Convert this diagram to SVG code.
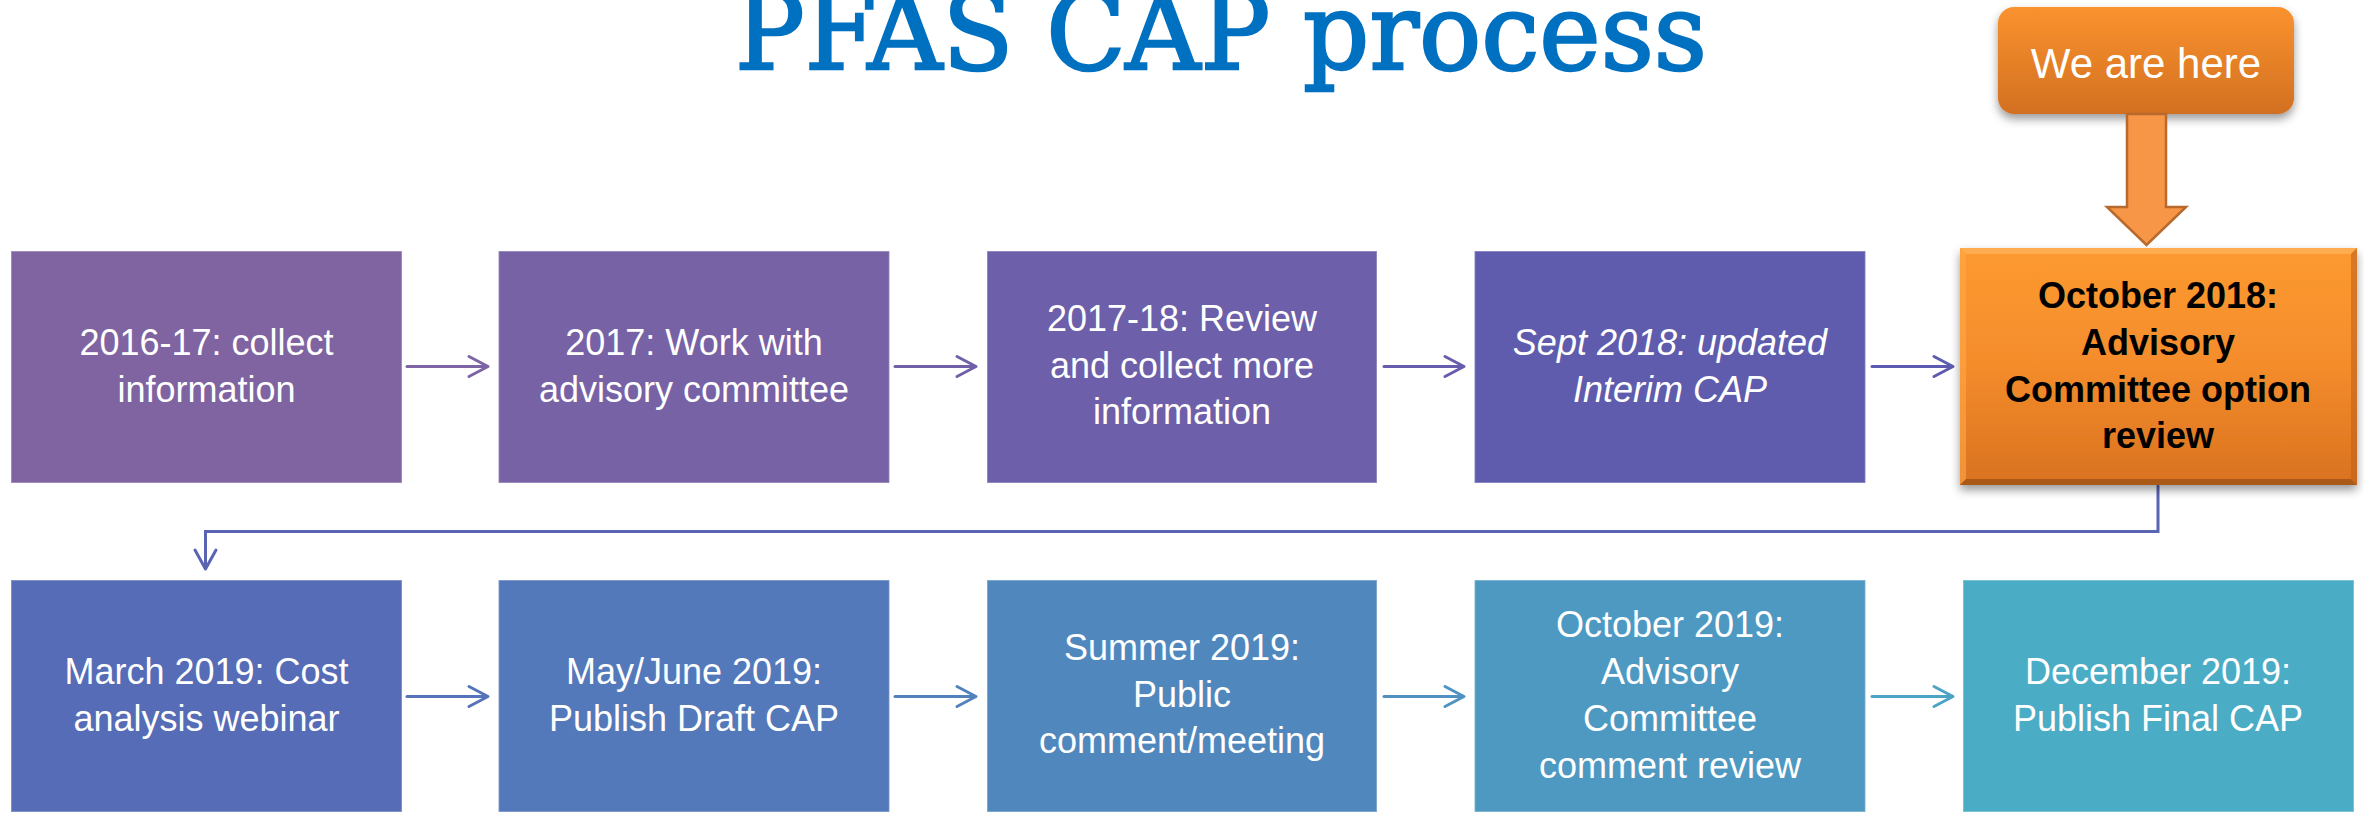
<svg xmlns="http://www.w3.org/2000/svg" width="2364" height="813" viewBox="0 0 2364 813">
<style>
.box{stroke:#ffffff;stroke-opacity:0.35;stroke-width:1.5}
.t{font-family:"Liberation Sans",Arial,sans-serif;font-size:36px;fill:#ffffff;text-anchor:middle}
.ti{font-style:italic}
.tb{font-family:"Liberation Sans",Arial,sans-serif;font-size:36px;font-weight:bold;fill:#000000;text-anchor:middle}
.conn{fill:none;stroke-width:3;stroke-linecap:round;stroke-linejoin:miter}
.head{fill:none;stroke-width:3;stroke-linecap:round;stroke-linejoin:round}
</style>
<defs>
<linearGradient id="og" x1="0" y1="0" x2="0" y2="1">
<stop offset="0" stop-color="#FD9A30"/>
<stop offset="0.5" stop-color="#F48C2C"/>
<stop offset="1" stop-color="#D9721F"/>
</linearGradient>
<linearGradient id="og2" x1="0" y1="0" x2="0" y2="1">
<stop offset="0" stop-color="#FB922F"/>
<stop offset="1" stop-color="#D27020"/>
</linearGradient>
<filter id="sh" x="-10%" y="-10%" width="120%" height="130%">
<feDropShadow dx="0" dy="5" stdDeviation="5" flood-color="#000000" flood-opacity="0.4"/>
</filter>
</defs>
<rect width="2364" height="813" fill="#ffffff"/>

<text x="1221" y="69" font-family="DejaVu Serif,'Liberation Serif',serif" font-size="106" fill="#0070C0" stroke="#0070C0" stroke-width="2.5" text-anchor="middle" textLength="972" lengthAdjust="spacingAndGlyphs">PFAS CAP process</text>

<g id="connectors">
<g stroke="#7C64A5"><line class="conn" x1="407" y1="366.5" x2="487" y2="366.5"/><polyline class="head" points="469,356.5 488,366.5 469,376.5"/></g>
<g stroke="#7160A8"><line class="conn" x1="895" y1="366.5" x2="975" y2="366.5"/><polyline class="head" points="957,356.5 976,366.5 957,376.5"/></g>
<g stroke="#665DAC"><line class="conn" x1="1384" y1="366.5" x2="1463" y2="366.5"/><polyline class="head" points="1445,356.5 1464,366.5 1445,376.5"/></g>
<g stroke="#5C5BAF"><line class="conn" x1="1872" y1="366.5" x2="1952" y2="366.5"/><polyline class="head" points="1934,356.5 1953,366.5 1934,376.5"/></g>
<g stroke="#5A64B2"><polyline class="conn" points="2158,486 2158,531.5 205.5,531.5 205.5,568"/><polyline class="head" points="195,550 205.5,569 216,550"/></g>
<g stroke="#5573B8"><line class="conn" x1="407" y1="696.5" x2="487" y2="696.5"/><polyline class="head" points="469,686.5 488,696.5 469,706.5"/></g>
<g stroke="#5281BC"><line class="conn" x1="895" y1="696.5" x2="975" y2="696.5"/><polyline class="head" points="957,686.5 976,696.5 957,706.5"/></g>
<g stroke="#4F91C0"><line class="conn" x1="1384" y1="696.5" x2="1463" y2="696.5"/><polyline class="head" points="1445,686.5 1464,696.5 1445,706.5"/></g>
<g stroke="#4DA3C4"><line class="conn" x1="1872" y1="696.5" x2="1952" y2="696.5"/><polyline class="head" points="1934,686.5 1953,696.5 1934,706.5"/></g>
</g>

<g id="n1"><rect class="box" x="11" y="251" width="391" height="232" fill="#8064A2"/>
<text class="t" x="206.5" y="355">2016-17: collect</text><text class="t" x="206.5" y="402">information</text></g>
<g id="n2"><rect class="box" x="498.5" y="251" width="391" height="232" fill="#7762A6"/>
<text class="t" x="694" y="355">2017: Work with</text><text class="t" x="694" y="402">advisory committee</text></g>
<g id="n3"><rect class="box" x="987" y="251" width="390" height="232" fill="#6D5FA9"/>
<text class="t" x="1182" y="331">2017-18: Review</text><text class="t" x="1182" y="378">and collect more</text><text class="t" x="1182" y="424">information</text></g>
<g id="n4"><rect class="box" x="1474.5" y="251" width="391" height="232" fill="#5F5CAD"/>
<text class="t ti" x="1670" y="355">Sept 2018: updated</text><text class="t ti" x="1670" y="402">Interim CAP</text></g>

<g id="n5">
<rect x="1960" y="248" width="397" height="237" fill="url(#og)" filter="url(#sh)"/>
<polygon points="1960,248 2357,248 2351,254 1966,254" fill="#FFB35C" opacity="0.7"/>
<polygon points="1960,248 1966,254 1966,479 1960,485" fill="#FFA94A" opacity="0.6"/>
<polygon points="2357,248 2357,485 2351,479 2351,254" fill="#C0621A" opacity="0.6"/>
<polygon points="1960,485 1966,479 2351,479 2357,485" fill="#9E5217" opacity="0.8"/>
<text class="tb" x="2158" y="308">October 2018:</text>
<text class="tb" x="2158" y="355">Advisory</text>
<text class="tb" x="2158" y="402">Committee option</text>
<text class="tb" x="2158" y="448">review</text>
</g>

<g id="n6"><rect class="box" x="11" y="580" width="391" height="232" fill="#566CB6"/>
<text class="t" x="206.5" y="684">March 2019: Cost</text><text class="t" x="206.5" y="731">analysis webinar</text></g>
<g id="n7"><rect class="box" x="498.5" y="580" width="391" height="232" fill="#5379BA"/>
<text class="t" x="694" y="684">May/June 2019:</text><text class="t" x="694" y="731">Publish Draft CAP</text></g>
<g id="n8"><rect class="box" x="987" y="580" width="390" height="232" fill="#5088BE"/>
<text class="t" x="1182" y="660">Summer 2019:</text><text class="t" x="1182" y="707">Public</text><text class="t" x="1182" y="753">comment/meeting</text></g>
<g id="n9"><rect class="box" x="1474.5" y="580" width="391" height="232" fill="#4E99C2"/>
<text class="t" x="1670" y="637">October 2019:</text><text class="t" x="1670" y="684">Advisory</text><text class="t" x="1670" y="731">Committee</text><text class="t" x="1670" y="778">comment review</text></g>
<g id="n10"><rect class="box" x="1963" y="580" width="391" height="232" fill="#4BACC6"/>
<text class="t" x="2158" y="684">December 2019:</text><text class="t" x="2158" y="731">Publish Final CAP</text></g>

<g id="here">
<rect x="1998" y="7" width="296" height="107" rx="16" ry="16" fill="url(#og2)" filter="url(#sh)"/>
<text x="2146" y="78" font-family="'Liberation Sans',Arial,sans-serif" font-size="42" fill="#ffffff" text-anchor="middle">We are here</text>
</g>
<g id="downarrow">
<polygon points="2127,114 2166,114 2166,207 2186,207 2146.5,245 2107,207 2127,207" fill="#F79646" stroke="#B86A2C" stroke-width="2.5" stroke-linejoin="miter"/>
</g>
</svg>
